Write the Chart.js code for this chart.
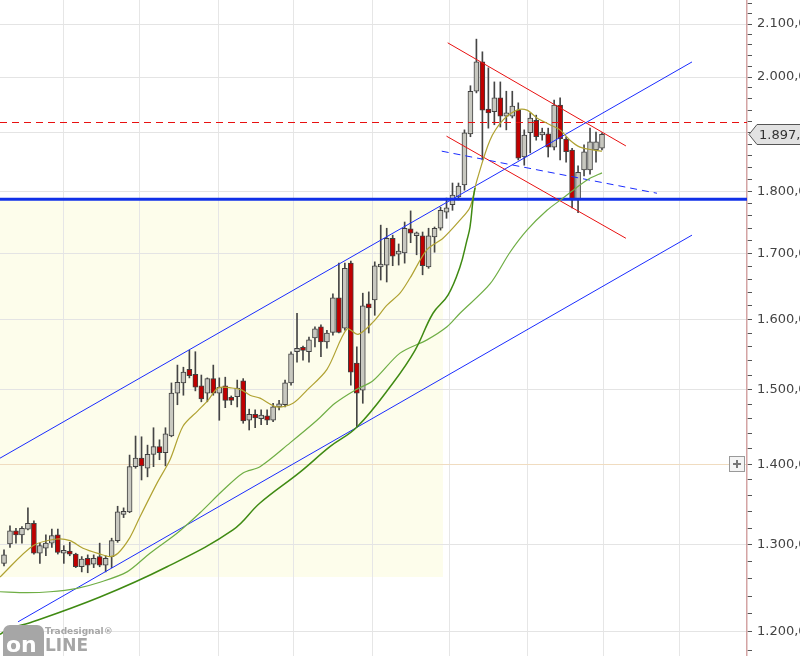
<!DOCTYPE html>
<html>
<head>
<meta charset="utf-8">
<script src="https://cdn.jsdelivr.net/npm/chart.js@4.4.1/dist/chart.umd.min.js"></script>
<style>
  html, body { margin: 0; padding: 0; background: #fff; overflow: hidden; width: 800px; height: 656px; }
  #wrap { position: absolute; left: 0; top: 0; width: 840px; height: 656px; }
</style>
</head>
<body>
<div id="wrap"><canvas id="chart" width="840" height="656"></canvas></div>
<script>
// Daily candles (index 0 = first visible bar)
const opens  = [1278,1301,1317,1312,1319,1326,1290,1296,1302,1312,1290,1290,1289,1274,1284,1277,1286,1276,1286,1305,
                1337,1340,1397,1408,1395,1413,1423,1415,1437,1495,1509,1528,1521,1505,1495,1515,1495,1505,1487,1490,
                1512,1458,1466,1460,1464,1458,1476,1479,1509,1553,1557,1553,1573,1589,1567,1581,1632,1587,1685,1537,
                1499,1623,1629,1679,1682,1724,1699,1701,1739,1728,1728,1679,1726,1740,1766,1778,1791,1811,1898,1974,
                2028,1942,1937,1962,1929,1929,1940,1858,1900,1922,1896,1898,1875,1949,1889,1870,1786,1836,1836,1870,1873];
const highs  = [1294,1323,1320,1322,1345,1329,1302,1312,1319,1319,1299,1303,1290,1286,1288,1288,1302,1287,1308,1347,
                1345,1412,1437,1436,1425,1448,1432,1448,1509,1534,1531,1555,1553,1520,1516,1534,1516,1517,1491,1513,
                1515,1473,1472,1472,1472,1481,1485,1513,1553,1609,1561,1574,1589,1592,1584,1638,1685,1685,1688,1560,
                1639,1641,1687,1745,1740,1729,1715,1750,1768,1734,1734,1740,1742,1774,1789,1814,1814,1905,1984,2071,
                2047,2017,1991,1991,1974,1974,1953,1905,1935,1931,1908,1908,1958,1962,1893,1873,1843,1879,1908,1901,1900];
const lows   = [1275,1297,1302,1302,1318,1289,1278,1287,1297,1289,1278,1287,1273,1268,1267,1273,1274,1268,1273,1303,
                1333,1339,1395,1380,1384,1397,1406,1398,1436,1479,1492,1516,1498,1483,1483,1492,1458,1475,1479,1476,
                1454,1445,1448,1452,1452,1456,1472,1476,1506,1538,1541,1538,1560,1546,1558,1577,1580,1584,1506,1449,
                1481,1580,1606,1659,1656,1681,1682,1685,1717,1698,1667,1677,1702,1737,1756,1769,1786,1802,1893,1971,
                1853,1908,1914,1910,1905,1926,1853,1844,1865,1887,1887,1858,1870,1853,1849,1773,1765,1826,1829,1849,1870];
const closes = [1288,1317,1312,1320,1326,1290,1299,1302,1311,1291,1291,1289,1274,1283,1276,1284,1276,1284,1305,1340,
                1340,1397,1408,1398,1413,1423,1415,1440,1495,1510,1524,1519,1503,1487,1515,1495,1503,1485,1485,1502,
                1457,1466,1461,1465,1458,1476,1480,1509,1550,1558,1555,1570,1586,1567,1580,1632,1581,1677,1524,1495,
                1620,1617,1681,1682,1724,1696,1701,1740,1732,1731,1681,1728,1740,1769,1773,1794,1809,1900,1974,2028,
                1940,1935,1962,1929,1935,1947,1856,1896,1926,1893,1900,1875,1949,1889,1867,1786,1832,1867,1884,1884,1897];

// moving averages (bar index, price)
const maFastIdx = [-0.67,4.85,8.86,11.04,13.21,16.05,17.73,19.06,21.07,22.74,25.59,27.76,29.93,32.44,34.11,35.79,38.13,39.8,41.14,42.81,
                   45.65,48.33,50.67,54.01,57.36,59.2,61.71,64.05,66.22,67.9,70.74,73.41,76.25,77.93,79.1,81.27,83.44,85.79,87.46,89.13,
                   91.3,92.98,94.65,96.32,98.49,100];
const maFastVal = [1262,1299,1307,1305,1296,1289,1286,1290,1309,1334,1376,1406,1450,1471,1485,1502,1502,1499,1492,1488,
                   1476,1481,1499,1528,1586,1578,1596,1621,1639,1662,1706,1724,1753,1774,1819,1887,1922,1940,1940,1926,
                   1914,1905,1887,1875,1870,1868];
const maMidIdx  = [-0.67,3.85,7.69,12.21,16.05,20.57,24.41,28.93,32.78,36.62,39.97,42.81,47.83,52.34,55.35,58.7,61.7,66.22,70.74,74.08,
                   76.25,81.27,84.62,87.46,90.8,93.48,95.82,97.99,100];
const maMidVal  = [1245,1244,1245,1249,1256,1268,1290,1314,1339,1367,1389,1397,1428,1458,1481,1499,1512,1551,1570,1589,
                   1609,1653,1702,1737,1769,1789,1807,1822,1831];
const curveIdx  = [-0.67,1.0,4.35,16.05,27.26,38.29,42.81,49.5,54.5,59.03,65.05,68.73,71.74,74.25,76.25,77.42,77.93,78.43,78.76];
const curveVal  = [1197,1204,1210,1239,1274,1318,1351,1390,1423,1449,1509,1555,1609,1636,1679,1721,1742,1786,1806];

// drawn trend lines: [startIdx, startPrice, endIdx, endPrice]
const channelUpper = [-0.67, 1408, 115.05, 2028];
const channelLower = [2.34, 1211, 115.05, 1729];
const flagUpper    = [74.2, 2064, 104.0, 1877];
const flagLower    = [74.0, 1894, 104.0, 1724];
const flagMid      = [73.2, 1868, 109.2, 1797];
const supportLevel = 1787;
const resistLevel  = 1918;
const zoneBox      = [-0.67, 73.4, 1262, 1787]; // x from, x to, price low, price high

const xMin = -0.67, xMax = 124.25;
const yMin = 1173.5, yMax = 2147;
const majorTicks = [1200,1300,1400,1500,1600,1700,1800,1900,2000,2100];
const timeGrid = [9.87,22.74,35.79,48.33,61.54,74.58,87.46,100.17,113.04];

const yTicks = [];
for (let v = 1180; v <= 2140; v += 20) yTicks.push(v);

function fmtDE(v) {
    const p = v.toFixed(2).split('.');
    return p[0].replace(/\B(?=(\d{3})+(?!\d))/g, '.') + ',' + p[1];
}
const pts = (xs, ys) => xs.map((x, i) => ({ x, y: ys[i] }));
const seg = a => [{ x: a[0], y: a[1] }, { x: a[2], y: a[3] }];
const flat = v => [{ x: xMin, y: v }, { x: xMax, y: v }];

const upCol = '#c8c8c0', downCol = '#c00000';
const bodyColors = opens.map((o, i) => closes[i] >= o ? upCol : downCol);

function lineDs(data, color, width, extra) {
    return Object.assign({ type: 'line', data, borderColor: color, borderWidth: width, pointRadius: 0, fill: false, order: 0 }, extra || {});
}

// background zone, price tag, +box, logo
const decor = {
    id: 'decor',
    beforeDraw(chart) {
        const { ctx, scales: { x, y } } = chart;
        ctx.save();
        const x0 = x.getPixelForValue(zoneBox[0]), x1 = x.getPixelForValue(zoneBox[1]);
        const y0 = y.getPixelForValue(zoneBox[3]), y1 = y.getPixelForValue(zoneBox[2]);
        ctx.fillStyle = '#fdfdeb';
        ctx.fillRect(Math.min(x0, 0), y0, x1 - Math.min(x0, 0), y1 - y0);
        ctx.restore();
    },
    afterDraw(chart) {
        const { ctx, chartArea: a, scales: { y } } = chart;
        ctx.save();
        // last price tag
        const last = closes[closes.length - 1];
        const py = Math.round(y.getPixelForValue(last)) + 0.5;
        ctx.beginPath();
        ctx.moveTo(a.right + 2, py);
        ctx.lineTo(a.right + 10, py - 10);
        ctx.lineTo(a.right + 120, py - 10);
        ctx.lineTo(a.right + 120, py + 10);
        ctx.lineTo(a.right + 10, py + 10);
        ctx.closePath();
        ctx.fillStyle = '#e2e2e2';
        ctx.fill();
        ctx.strokeStyle = '#555';
        ctx.lineWidth = 1;
        ctx.stroke();
        ctx.fillStyle = '#333';
        ctx.font = '13px "DejaVu Sans"';
        ctx.textBaseline = 'middle';
        ctx.fillText(fmtDE(last), a.right + 12, py + 1);

        // small + box at 1400
        const by = Math.round(y.getPixelForValue(1400));
        ctx.fillStyle = '#f4f4f4';
        ctx.fillRect(a.right - 18, by - 8, 16, 16);
        ctx.strokeStyle = '#999';
        ctx.strokeRect(a.right - 17.5, by - 7.5, 15, 15);
        ctx.strokeStyle = '#777';
        ctx.lineWidth = 2;
        ctx.beginPath();
        ctx.moveTo(a.right - 14, by); ctx.lineTo(a.right - 6, by);
        ctx.moveTo(a.right - 10, by - 4); ctx.lineTo(a.right - 10, by + 4);
        ctx.stroke();

        // Tradesignal online logo
        ctx.fillStyle = '#a6a6a6';
        ctx.beginPath();
        ctx.roundRect(3, 625, 41, 40, 7);
        ctx.fill();
        ctx.fillStyle = '#fff';
        ctx.font = 'bold 22px "DejaVu Sans"';
        ctx.textBaseline = 'alphabetic';
        ctx.fillText('on', 6, 652);
        ctx.fillStyle = '#a6a6a6';
        ctx.font = 'bold 17px "DejaVu Sans"';
        ctx.fillText('LINE', 45, 651);
        ctx.font = 'bold 9px "DejaVu Sans"';
        ctx.fillText('Tradesignal\u00ae', 45, 634);
        ctx.restore();
    }
};

const datasets = [
    { type: 'bar', data: lows.map((l, i) => ({ x: i, y: [l, highs[i]] })), backgroundColor: '#454545',
      borderWidth: 0, barThickness: 1, grouped: false, order: 3 },
    { type: 'bar', data: opens.map((o, i) => ({ x: i, y: [o, closes[i]] })), backgroundColor: bodyColors,
      borderColor: '#404040', borderWidth: 1, borderSkipped: false, barThickness: 5, minBarLength: 3, grouped: false, order: 2 },
    lineDs(pts(curveIdx, curveVal), '#3f8a12', 1.5, { tension: 0.4 }),
    lineDs(pts(maMidIdx, maMidVal), '#6fae45', 1.2, { tension: 0.3 }),
    lineDs(pts(maFastIdx, maFastVal), '#b0a232', 1.2, { tension: 0.3 }),
    lineDs(seg(channelUpper), '#1a2cff', 1),
    lineDs(seg(channelLower), '#1a2cff', 1),
    lineDs(seg(flagMid), '#1a2cff', 1, { borderDash: [7, 5] }),
    lineDs(seg(flagUpper), '#e81010', 1),
    lineDs(seg(flagLower), '#e81010', 1),
    lineDs(flat(resistLevel), '#e81010', 1.2, { borderDash: [7, 5] }),
    lineDs(flat(supportLevel), '#1030e8', 3)
];

new Chart(document.getElementById('chart'), {
    type: 'bar',
    data: { datasets },
    plugins: [decor],
    options: {
        responsive: false,
        animation: false,
        devicePixelRatio: 1,
        layout: { padding: 0 },
        plugins: { legend: { display: false }, tooltip: { enabled: false } },
        scales: {
            x: {
                type: 'linear', min: xMin, max: xMax, offset: false,
                afterBuildTicks: s => { s.ticks = timeGrid.map(v => ({ value: v })); },
                afterFit: s => { s.height = 0; s.paddingLeft = 0; s.paddingRight = 0; },
                grid: { color: '#e6e6e6', drawTicks: false, offset: false },
                border: { display: false },
                ticks: { display: false }
            },
            y: {
                type: 'logarithmic', position: 'right', min: yMin, max: yMax,
                afterBuildTicks: s => { s.ticks = yTicks.map(v => ({ value: v })); },
                afterFit: s => { s.width = 93; s.paddingTop = 0; s.paddingBottom = 0; },
                grid: {
                    color: c => c.tick && c.tick.value % 100 === 0 ? (c.tick.value === 1400 ? '#f0dcc0' : '#e4e4e4') : 'rgba(0,0,0,0)',
                    tickColor: '#555', tickLength: 5, drawTicks: true
                },
                border: { color: '#d4a4a4', width: 1.5 },
                ticks: {
                    autoSkip: false, padding: 5, color: '#444',
                    font: { family: 'DejaVu Sans', size: 13 },
                    callback: v => majorTicks.includes(v) ? fmtDE(v) : ''
                }
            }
        }
    }
});
</script>
</body>
</html>
